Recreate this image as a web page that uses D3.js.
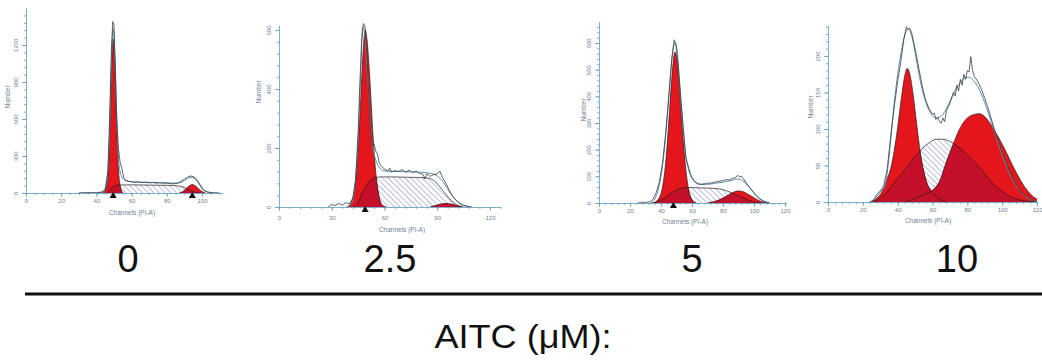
<!DOCTYPE html>
<html>
<head>
<meta charset="utf-8">
<script src="https://cdn.jsdelivr.net/npm/d3@7"></script>
<style>
  body { margin: 0; background: #fff; }
  svg { display: block; font-family: "Liberation Sans", Arial, sans-serif; }
  .axis path, .axis line { stroke: #5b9cc2; stroke-width: 0.8; }
  .axis text { fill: #6f8296; font-size: 6px; }
</style>
</head>
<body>
<svg id="chart" width="1042" height="360"></svg>
<script>
// AITC 0 uM
const g1_0 = [[43,0],[45,20],[46.5,120],[47.5,450],[48.5,950],[49.5,1250],[50.5,1000],[51.5,550],[52.5,200],[53.5,60],[55,0]];
const s_0 = [[46,0],[48,30],[50,55],[53,65],[60,66],[70,64],[80,62],[86,58],[90,45],[93,25],[96,8],[99,0]];
const g2_0 = [[87,0],[89,10],[91,35],[93,60],[94.5,68],[96,60],[98,35],[100,12],[102,0]];
const fit_0 = [[40,0],[44,10],[46,100],[47.5,500],[48.5,1050],[49.5,1330],[50.5,1120],[51.5,650],[52.5,300],[53.5,170],[55,120],[57,100],[60,92],[65,88],[70,86],[75,84],[80,82],[85,80],[88,85],[91,110],[93.5,128],[95.5,122],[98,80],[100,35],[103,8],[106,0]];
const raw_0 = [[30,2],[35,4],[40,3],[43,8],[45,30],[46.5,180],[47.5,600],[48.5,1150],[49.3,1390],[50,1360],[50.8,1000],[51.5,620],[52.5,360],[53.5,250],[54.5,200],[55.5,125],[56.5,102],[58,95],[60,90],[62,86],[64,90],[66,84],[68,88],[70,82],[72,85],[74,80],[76,83],[78,79],[80,80],[82,76],[84,74],[86,80],[88,92],[90,112],[92,130],[93.5,138],[95,133],[96.5,118],[98,88],[99.5,55],[101,25],[103,8],[106,3],[110,1]];
const marks_0 = [49.5, 94.5];
const xTicks_0 = [0,20,40,60,80,100];
const yTicks_0 = [0,300,600,900,1200];

// AITC 2.5 uM
const g1_25 = [[39,0],[41,15],[43,60],[45,200],[46.5,370],[48,540],[49,600],[50,570],[51.5,450],[53,290],[55,120],[57,35],[59,5],[61,0]];
const s_25 = [[42,0],[45,15],[48,55],[51,85],[54,98],[58,102],[65,102],[72,101],[80,100],[85,98],[89,85],[92,65],[95,42],[98,22],[101,8],[105,0]];
const g2_25 = [[86,0],[89,5],[92,10],[95,12],[98,10],[101,5],[104,0]];
const fit_25 = [[38,0],[41,10],[43,60],[45,230],[46.5,450],[47.5,610],[48.5,600],[50,480],[51.5,330],[53,220],[55,160],[57,135],[60,122],[70,120],[80,118],[86,114],[90,105],[93,88],[96,60],[99,35],[102,15],[105,5],[108,0]];
const raw_25 = [[28,0],[30,8],[32,5],[34,12],[36,6],[38,15],[40,10],[42,30],[43.5,90],[45,250],[46,420],[47,560],[48,622],[49,610],[50,520],[51,380],[52,270],[53,210],[54,215],[55,190],[56,180],[57,150],[58,140],[59,135],[60,128],[62,122],[63,132],[64,118],[66,124],[68,120],[70,127],[72,118],[74,125],[76,116],[78,122],[80,114],[82,110],[83,95],[84,112],[86,104],[88,110],[90,112],[91.5,122],[93,100],[95,80],[97,55],[99,35],[101,22],[103,12],[105,6],[108,2],[110,0]];
const marks_25 = [49];
const xTicks_25 = [0,30,60,90,120];
const yTicks_25 = [0,200,400,600];

// AITC 5 uM
const g1_5 = [[35,0],[38,12],[41,60],[43,150],[45,300],[47,470],[49,566],[51,500],[53,340],[55,190],[57,80],[59,25],[61,5],[63,0]];
const s_5 = [[34,0],[38,6],[42,18],[46,35],[50,48],[54,56],[58,58],[64,57],[70,56],[76,54],[80,50],[84,42],[88,32],[92,22],[96,12],[100,4],[104,0]];
const g2_5 = [[70,0],[74,5],[78,13],[82,25],[86,38],[89,45],[92,44],[95,37],[98,27],[101,16],[104,7],[107,2],[110,0]];
const fit_5 = [[33,0],[36,15],[39,70],[41,140],[43,250],[45,390],[47,540],[49,600],[50.5,570],[52,450],[54,300],[56,180],[58,120],[60,92],[62,78],[65,70],[70,70],[75,74],[80,78],[85,84],[89,90],[92,86],[95,72],[98,52],[101,32],[104,16],[107,6],[110,0]];
const raw_5 = [[25,0],[28,3],[30,2],[33,5],[35,15],[37,40],[39,80],[41,150],[43,260],[45,400],[47,540],[48.5,612],[49.5,600],[51,520],[53,380],[55,240],[56,170],[57,150],[58,130],[59,110],[60,95],[62,80],[64,72],[66,70],[68,72],[70,75],[72,74],[74,78],[76,80],[78,82],[80,84],[82,88],[84,86],[86,92],[88,95],[89.5,104],[90.5,98],[92,100],[93.5,88],[95,75],[97,60],[99,45],[101,30],[103,18],[105,9],[107,4],[110,0]];
const marks_5 = [48];
const xTicks_5 = [0,20,40,60,80,100,120];
const yTicks_5 = [0,100,200,300,400,500,600];

// AITC 10 uM
const g1_10 = [[25,0],[28,5],[31,14],[34,32],[36,46],[38,70],[40,102],[42,140],[44,172],[45.5,183],[47,175],[49,145],[51,105],[53,68],[55,42],[57,25],[59,16],[61,10],[64,4],[68,0]];
const s_10 = [[26,0],[30,5],[34,14],[38,26],[42,38],[46,50],[50,62],[54,73],[58,81],[62,86],[66,86],[70,83],[74,77],[78,69],[82,60],[86,50],[90,38],[94,27],[98,18],[102,11],[106,6],[110,3],[115,1],[120,0]];
const g2_10 = [[45,0],[50,5],[55,10],[60,16],[64,28],[68,55],[72,80],[76,102],[80,115],[84,120],[87,121],[90,117],[94,104],[98,88],[102,70],[106,50],[110,32],[114,17],[118,7],[120,4]];
const fit_10 = [[24,0],[26,3],[28,10],[30,16],[32,18],[34,40],[36,85],[38,135],[40,175],[42,205],[44,228],[46,237],[48,228],[50,205],[52,178],[54,155],[56,138],[58,126],[60,118],[62,115],[64,116],[66,120],[68,128],[70,138],[72,148],[74,157],[76,164],[78,169],[80,171],[82,170],[84,165],[86,158],[88,148],[90,136],[92,122],[94,108],[96,93],[98,78],[100,64],[102,52],[104,40],[106,30],[108,22],[110,15],[112,10],[115,5],[118,2],[120,0]];
const raw_10 = [[24,0],[26,2],[28,8],[30,14],[32,22],[34,45],[36,90],[38,130],[40,165],[42,195],[43.5,222],[45,240],[46,236],[47,238],[48,232],[50,210],[52,185],[54,160],[56,140],[58,128],[60,120],[61,122],[62,113],[63,116],[64,110],[65,108],[66,115],[67,110],[68,125],[70,135],[72,150],[73,145],[74,160],[75,152],[76,168],[77,160],[78,175],[79,168],[80,180],[81,178],[82,199],[83,180],[84,172],[86,165],[88,155],[90,142],[92,128],[94,112],[96,96],[98,82],[100,68],[102,56],[104,44],[106,33],[108,24],[110,16],[112,11],[115,6],[118,2],[120,0]];
const marks_10 = [];
const xTicks_10 = [0,20,40,60,80,100,120];
const yTicks_10 = [0,50,100,150,200];

const doses = ["0", "2.5", "5", "10"];
const xTitle = "Channels (PI-A)";
const yTitle = "Number";
const footer = "AITC (\u03bcM):";

// panel layout (pixels)
const panels = [
  {g1: g1_0, s: s_0, g2: g2_0, fit: fit_0, raw: raw_0, marks: marks_0, xt: xTicks_0, yt: yTicks_0,
   xDom: [0, 112], xRng: [26, 223.1], yDom: [0, 1500], yRng: [193, 8], xMinor: 5, yMinor: 60,
   tickOff: 12, titleY: 215, titleX: 132, numX: 8, numY: 97, doseX: 128},
  {g1: g1_25, s: s_25, g2: g2_25, fit: fit_25, raw: raw_25, marks: marks_25, xt: xTicks_25, yt: yTicks_25,
   xDom: [0, 126], xRng: [279, 500.5], yDom: [0, 617], yRng: [207, 25], xMinor: 6, yMinor: 40,
   tickOff: 15, titleY: 232, titleX: 402, numX: 259, numY: 92, doseX: 390},
  {g1: g1_5, s: s_5, g2: g2_5, fit: fit_5, raw: raw_5, marks: marks_5, xt: xTicks_5, yt: yTicks_5,
   xDom: [0, 121], xRng: [599, 786.5], yDom: [0, 680], yRng: [203, 21.7], xMinor: 4, yMinor: 20,
   tickOff: 12, titleY: 224, titleX: 685, numX: 584, numY: 110, doseX: 692},
  {g1: g1_10, s: s_10, g2: g2_10, fit: fit_10, raw: raw_10, marks: marks_10, xt: xTicks_10, yt: yTicks_10,
   xDom: [0, 120], xRng: [828, 1037], yDom: [0, 242], yRng: [202, 25.3], xMinor: 4, yMinor: 10,
   tickOff: 12, titleY: 223, titleX: 928, numX: 811, numY: 107, doseX: 957}
];

const RED = "#e3161c";
const DARK = "#c5102a";

const svg = d3.select("#chart");
const defs = svg.append("defs");

// blue diagonal hatch for S phase
const pat = defs.append("pattern")
  .attr("id", "hatch")
  .attr("patternUnits", "userSpaceOnUse")
  .attr("width", 4).attr("height", 4)
  .attr("patternTransform", "rotate(-45)");
pat.append("rect").attr("width", 4).attr("height", 4).attr("fill", "#fff");
pat.append("line")
  .attr("x1", 0).attr("y1", 0).attr("x2", 0).attr("y2", 4)
  .attr("stroke", "#7b88c2").attr("stroke-width", 1.1);

const fmt = d3.format("d");

panels.forEach((p, i) => {
  const x = d3.scaleLinear().domain(p.xDom).range(p.xRng);
  const y = d3.scaleLinear().domain(p.yDom).range(p.yRng);
  const g = svg.append("g");

  const area = d3.area().curve(d3.curveMonotoneX)
    .x(d => x(d[0])).y0(y(0)).y1(d => y(d[1]));
  const smooth = d3.line().curve(d3.curveMonotoneX)
    .x(d => x(d[0])).y(d => y(d[1]));
  const jag = d3.line()
    .x(d => x(d[0])).y(d => y(d[1]));

  // S phase hatched
  g.append("path").attr("d", area(p.s)).attr("fill", "url(#hatch)");

  // G1 / G2 red
  g.append("path").attr("d", area(p.g1)).attr("fill", RED);
  g.append("path").attr("d", area(p.g2)).attr("fill", RED);

  // overlap of S with the red peaks
  const clip = defs.append("clipPath").attr("id", "red" + i);
  clip.append("path").attr("d", area(p.g1));
  clip.append("path").attr("d", area(p.g2));
  g.append("path").attr("d", area(p.s)).attr("fill", DARK)
    .attr("clip-path", `url(#red${i})`);

  // component outlines
  [p.g1, p.g2, p.s].forEach(c => {
    g.append("path").attr("d", smooth(c))
      .attr("fill", "none").attr("stroke", "#2a1a1a").attr("stroke-width", 0.7);
  });

  // fitted envelope and raw histogram
  g.append("path").attr("d", smooth(p.fit))
    .attr("fill", "none").attr("stroke", "#5b8fae").attr("stroke-width", 1);
  g.append("path").attr("d", jag(p.raw))
    .attr("fill", "none").attr("stroke", "#3a3f44").attr("stroke-width", 0.8);

  // x axis
  const xMinorTicks = d3.range(p.xDom[0], p.xDom[1] + 0.01, p.xMinor);
  g.append("g").attr("class", "axis")
    .attr("transform", `translate(0,${y(0)})`)
    .call(d3.axisBottom(x).tickValues(xMinorTicks).tickSize(2).tickSizeOuter(0).tickFormat(""));
  const xa = g.append("g").attr("class", "axis")
    .attr("transform", `translate(0,${y(0)})`)
    .call(d3.axisBottom(x).tickValues(p.xt).tickSize(4).tickSizeOuter(0).tickFormat(fmt));
  xa.select(".domain").remove();
  xa.selectAll("text").attr("y", p.tickOff - 6).attr("dy", "0.71em");

  // y axis
  const yMinorTicks = d3.range(0, p.yDom[1], p.yMinor);
  g.append("g").attr("class", "axis")
    .attr("transform", `translate(${x(0)},0)`)
    .call(d3.axisLeft(y).tickValues(yMinorTicks).tickSize(2).tickSizeOuter(0).tickFormat(""));
  const ya = g.append("g").attr("class", "axis")
    .attr("transform", `translate(${x(0)},0)`)
    .call(d3.axisLeft(y).tickValues(p.yt).tickSize(4).tickSizeOuter(0).tickFormat(fmt));
  ya.select(".domain").remove();
  ya.selectAll("text")
    .attr("x", 0).attr("y", 0).attr("dy", 0)
    .attr("text-anchor", "middle")
    .attr("transform", "translate(-8,0) rotate(-90)");

  // titles
  g.append("text")
    .attr("x", p.titleX).attr("y", p.titleY)
    .attr("text-anchor", "middle")
    .attr("fill", "#6f8296").attr("font-size", 6.5)
    .text(xTitle);
  g.append("text")
    .attr("transform", `translate(${p.numX},${p.numY}) rotate(-90)`)
    .attr("text-anchor", "middle").attr("dy", "0.35em")
    .attr("fill", "#6f8296").attr("font-size", 6.5)
    .text(yTitle);

  // peak markers
  g.selectAll(".mark").data(p.marks).join("path")
    .attr("d", d3.symbol(d3.symbolTriangle, 22))
    .attr("transform", d => `translate(${x(d)},${y(0) + 3})`)
    .attr("fill", "#111");

  // dose label
  svg.append("text")
    .attr("x", p.doseX).attr("y", 272)
    .attr("text-anchor", "middle")
    .attr("font-size", 38).attr("fill", "#111")
    .text(doses[i]);
});

svg.append("line")
  .attr("x1", 25).attr("x2", 1042)
  .attr("y1", 294).attr("y2", 294)
  .attr("stroke", "#111").attr("stroke-width", 3);

svg.append("text")
  .attr("x", 523).attr("y", 348)
  .attr("text-anchor", "middle")
  .attr("font-size", 33).attr("fill", "#111")
  .attr("textLength", 177).attr("lengthAdjust", "spacingAndGlyphs")
  .text(footer);
</script>
</body>
</html>
